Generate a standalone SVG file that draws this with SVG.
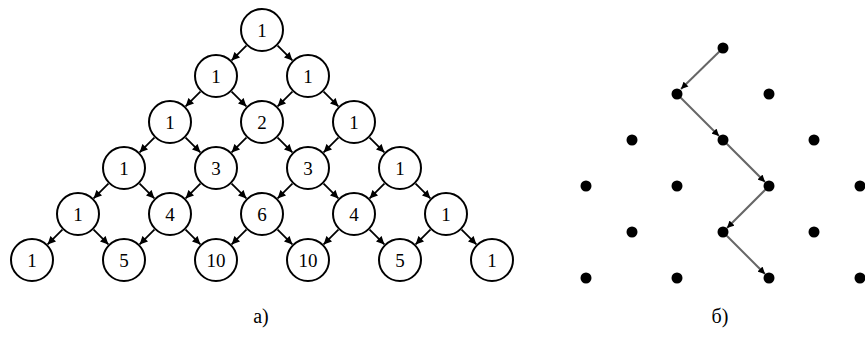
<svg xmlns="http://www.w3.org/2000/svg" width="865" height="338" viewBox="0 0 865 338">
<style>
.n circle{fill:#fff;stroke:#000;stroke-width:2}
.n text{font-family:"Liberation Serif","DejaVu Serif",serif;font-size:19px;fill:#000;text-anchor:middle;dominant-baseline:central}
.c line{stroke:#000;stroke-width:1.8}
.p line{stroke:#666;stroke-width:2}
.d circle{fill:#000}
.lbl{font-family:"Liberation Serif","DejaVu Serif",serif;font-size:20px;fill:#000;text-anchor:middle}
</style>
<defs>
<marker id="ah" viewBox="0 0 10 10" refX="10" refY="5" markerWidth="9" markerHeight="8" markerUnits="userSpaceOnUse" orient="auto">
<path d="M0,0 L10,5 L0,10 Z" fill="#000"/>
</marker>
<marker id="ah2" viewBox="0 0 10 10" refX="10" refY="5" markerWidth="8" markerHeight="7" markerUnits="userSpaceOnUse" orient="auto">
<path d="M0,0 L10,5 L0,10 Z" fill="#000"/>
</marker>
</defs>
<g id="connectors" class="c">
<line x1="246.4" y1="45.6" x2="231.6" y2="60.4" marker-end="url(#ah)"/>
<line x1="277.6" y1="45.6" x2="292.4" y2="60.4" marker-end="url(#ah)"/>
<line x1="200.4" y1="91.6" x2="185.6" y2="106.4" marker-end="url(#ah)"/>
<line x1="231.6" y1="91.6" x2="246.4" y2="106.4" marker-end="url(#ah)"/>
<line x1="292.4" y1="91.6" x2="277.6" y2="106.4" marker-end="url(#ah)"/>
<line x1="323.6" y1="91.6" x2="338.4" y2="106.4" marker-end="url(#ah)"/>
<line x1="154.4" y1="137.6" x2="139.6" y2="152.4" marker-end="url(#ah)"/>
<line x1="185.6" y1="137.6" x2="200.4" y2="152.4" marker-end="url(#ah)"/>
<line x1="246.4" y1="137.6" x2="231.6" y2="152.4" marker-end="url(#ah)"/>
<line x1="277.6" y1="137.6" x2="292.4" y2="152.4" marker-end="url(#ah)"/>
<line x1="338.4" y1="137.6" x2="323.6" y2="152.4" marker-end="url(#ah)"/>
<line x1="369.6" y1="137.6" x2="384.4" y2="152.4" marker-end="url(#ah)"/>
<line x1="108.4" y1="183.6" x2="93.6" y2="198.4" marker-end="url(#ah)"/>
<line x1="139.6" y1="183.6" x2="154.4" y2="198.4" marker-end="url(#ah)"/>
<line x1="200.4" y1="183.6" x2="185.6" y2="198.4" marker-end="url(#ah)"/>
<line x1="231.6" y1="183.6" x2="246.4" y2="198.4" marker-end="url(#ah)"/>
<line x1="292.4" y1="183.6" x2="277.6" y2="198.4" marker-end="url(#ah)"/>
<line x1="323.6" y1="183.6" x2="338.4" y2="198.4" marker-end="url(#ah)"/>
<line x1="384.4" y1="183.6" x2="369.6" y2="198.4" marker-end="url(#ah)"/>
<line x1="415.6" y1="183.6" x2="430.4" y2="198.4" marker-end="url(#ah)"/>
<line x1="62.4" y1="229.6" x2="47.6" y2="244.4" marker-end="url(#ah)"/>
<line x1="93.6" y1="229.6" x2="108.4" y2="244.4" marker-end="url(#ah)"/>
<line x1="154.4" y1="229.6" x2="139.6" y2="244.4" marker-end="url(#ah)"/>
<line x1="185.6" y1="229.6" x2="200.4" y2="244.4" marker-end="url(#ah)"/>
<line x1="246.4" y1="229.6" x2="231.6" y2="244.4" marker-end="url(#ah)"/>
<line x1="277.6" y1="229.6" x2="292.4" y2="244.4" marker-end="url(#ah)"/>
<line x1="338.4" y1="229.6" x2="323.6" y2="244.4" marker-end="url(#ah)"/>
<line x1="369.6" y1="229.6" x2="384.4" y2="244.4" marker-end="url(#ah)"/>
<line x1="430.4" y1="229.6" x2="415.6" y2="244.4" marker-end="url(#ah)"/>
<line x1="461.6" y1="229.6" x2="476.4" y2="244.4" marker-end="url(#ah)"/>
</g>
<g id="path-b" class="p">
<line x1="723" y1="48" x2="681" y2="89" marker-end="url(#ah2)"/>
<line x1="677" y1="94" x2="719" y2="136" marker-end="url(#ah2)"/>
<line x1="723" y1="140" x2="765" y2="182" marker-end="url(#ah2)"/>
<line x1="769" y1="186" x2="727" y2="228" marker-end="url(#ah2)"/>
<line x1="723" y1="232" x2="765" y2="274" marker-end="url(#ah2)"/>
</g>
<g id="n0-0" class="n"><circle cx="262" cy="30" r="21"/><text x="262" y="30">1</text></g>
<g id="n1-0" class="n"><circle cx="216" cy="76" r="21"/><text x="216" y="76">1</text></g>
<g id="n1-1" class="n"><circle cx="308" cy="76" r="21"/><text x="308" y="76">1</text></g>
<g id="n2-0" class="n"><circle cx="170" cy="122" r="21"/><text x="170" y="122">1</text></g>
<g id="n2-1" class="n"><circle cx="262" cy="122" r="21"/><text x="262" y="122">2</text></g>
<g id="n2-2" class="n"><circle cx="354" cy="122" r="21"/><text x="354" y="122">1</text></g>
<g id="n3-0" class="n"><circle cx="124" cy="168" r="21"/><text x="124" y="168">1</text></g>
<g id="n3-1" class="n"><circle cx="216" cy="168" r="21"/><text x="216" y="168">3</text></g>
<g id="n3-2" class="n"><circle cx="308" cy="168" r="21"/><text x="308" y="168">3</text></g>
<g id="n3-3" class="n"><circle cx="400" cy="168" r="21"/><text x="400" y="168">1</text></g>
<g id="n4-0" class="n"><circle cx="78" cy="214" r="21"/><text x="78" y="214">1</text></g>
<g id="n4-1" class="n"><circle cx="170" cy="214" r="21"/><text x="170" y="214">4</text></g>
<g id="n4-2" class="n"><circle cx="262" cy="214" r="21"/><text x="262" y="214">6</text></g>
<g id="n4-3" class="n"><circle cx="354" cy="214" r="21"/><text x="354" y="214">4</text></g>
<g id="n4-4" class="n"><circle cx="446" cy="214" r="21"/><text x="446" y="214">1</text></g>
<g id="n5-0" class="n"><circle cx="32" cy="260" r="21"/><text x="32" y="260">1</text></g>
<g id="n5-1" class="n"><circle cx="124" cy="260" r="21"/><text x="124" y="260">5</text></g>
<g id="n5-2" class="n"><circle cx="216" cy="260" r="21"/><text x="216" y="260">10</text></g>
<g id="n5-3" class="n"><circle cx="308" cy="260" r="21"/><text x="308" y="260">10</text></g>
<g id="n5-4" class="n"><circle cx="400" cy="260" r="21"/><text x="400" y="260">5</text></g>
<g id="n5-5" class="n"><circle cx="492" cy="260" r="21"/><text x="492" y="260">1</text></g>
<g id="d0-0" class="d"><circle cx="723" cy="48" r="5.5"/></g>
<g id="d1-0" class="d"><circle cx="677" cy="94" r="5.5"/></g>
<g id="d1-1" class="d"><circle cx="769" cy="94" r="5.5"/></g>
<g id="d2-0" class="d"><circle cx="632" cy="140" r="5.5"/></g>
<g id="d2-1" class="d"><circle cx="723" cy="140" r="5.5"/></g>
<g id="d2-2" class="d"><circle cx="814" cy="140" r="5.5"/></g>
<g id="d3-0" class="d"><circle cx="586" cy="186" r="5.5"/></g>
<g id="d3-1" class="d"><circle cx="677" cy="186" r="5.5"/></g>
<g id="d3-2" class="d"><circle cx="769" cy="186" r="5.5"/></g>
<g id="d3-3" class="d"><circle cx="860" cy="186" r="5.5"/></g>
<g id="d4-0" class="d"><circle cx="632" cy="232" r="5.5"/></g>
<g id="d4-1" class="d"><circle cx="723" cy="232" r="5.5"/></g>
<g id="d4-2" class="d"><circle cx="814" cy="232" r="5.5"/></g>
<g id="d5-0" class="d"><circle cx="586" cy="278" r="5.5"/></g>
<g id="d5-1" class="d"><circle cx="677" cy="278" r="5.5"/></g>
<g id="d5-2" class="d"><circle cx="769" cy="278" r="5.5"/></g>
<g id="d5-3" class="d"><circle cx="860" cy="278" r="5.5"/></g>
<text class="lbl" x="261" y="323">a)</text>
<text class="lbl" x="720" y="323">б)</text>
</svg>
